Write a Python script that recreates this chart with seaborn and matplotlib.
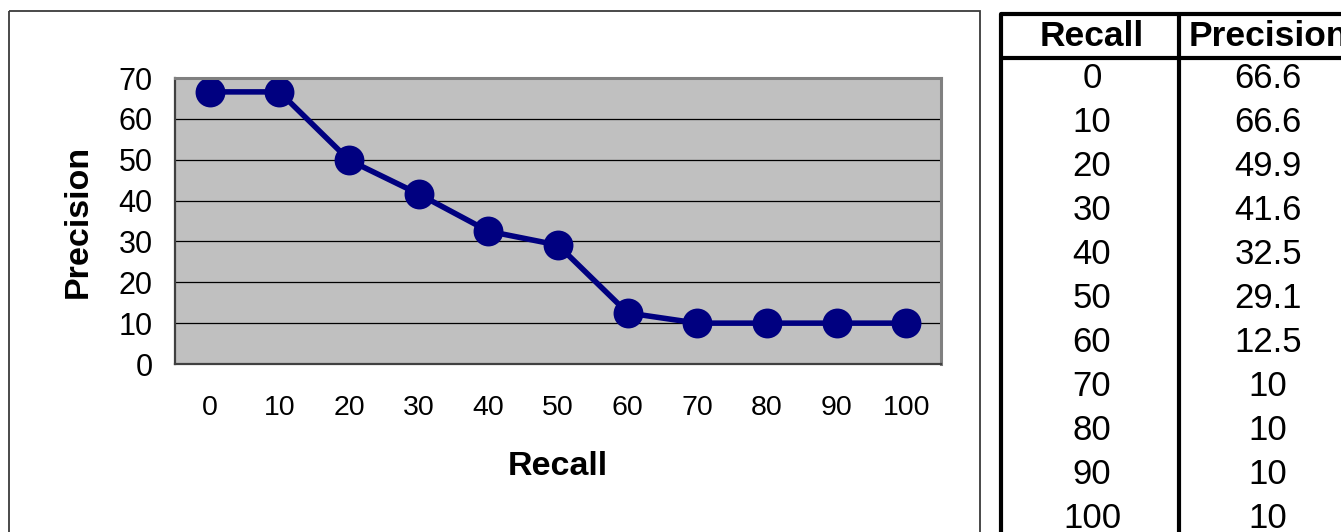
import matplotlib
matplotlib.use("Agg")
import matplotlib.pyplot as plt
from matplotlib.patches import Rectangle
import pandas as pd
import seaborn as sns

# Interpolated precision at the eleven standard recall levels
recall = [0, 10, 20, 30, 40, 50, 60, 70, 80, 90, 100]
precision = [66.6, 66.6, 49.9, 41.6, 32.5, 29.1, 12.5, 10, 10, 10, 10]
y_ticks = [0, 10, 20, 30, 40, 50, 60, 70]
table_header = ["Recall", "Precision"]

sns.set_theme(style="white")
plt.rcParams["font.family"] = ["Liberation Sans", "DejaVu Sans"]
plt.rcParams.update({"text.color": "black", "axes.labelcolor": "black",
                     "xtick.color": "black", "ytick.color": "black"})

W, H = 1341, 532
fig = plt.figure(figsize=(W / 100, H / 100), dpi=100)
fig.patch.set_facecolor("white")

# Pixel-space overlay for the chart frame and the data table
overlay = fig.add_axes([0, 0, 1, 1], zorder=0)
overlay.set_xlim(0, W)
overlay.set_ylim(H, 0)
overlay.axis("off")
overlay.add_patch(Rectangle((9.5, 11), 971, 540, fill=False,
                            edgecolor="#3a3a3a", linewidth=1.3))

# Chart
ax = fig.add_axes([175 / W, 1 - 364 / H, (941 - 175) / W, (364 - 78) / H], zorder=2)
ax.set_facecolor("#C0C0C0")
df = pd.DataFrame({"Recall": [str(r) for r in recall], "Precision": precision})
sns.pointplot(data=df, x="Recall", y="Precision", color="#000080",
              markersize=18.5, linewidth=4.0, errorbar=None, ax=ax)
ax.set_xlim(-0.5, len(recall) - 0.5)
ax.set_ylim(y_ticks[0], y_ticks[-1])
ax.set_yticks(y_ticks)
ax.set_yticklabels([str(t) for t in y_ticks], fontsize=22)
ax.set_xticks(range(len(recall)))
ax.set_xticklabels([str(r) for r in recall], fontsize=20.5)
ax.set_xticks([i - 0.5 for i in range(len(recall) + 1)], minor=True)
ax.tick_params(axis="x", which="major", length=0, pad=22, labelcolor="black")
ax.tick_params(axis="x", which="minor", length=7, width=1.2, color="#404040", direction="out")
ax.tick_params(axis="y", which="major", length=7, width=1.2, color="#404040",
               direction="out", pad=9, labelcolor="black")
ax.yaxis.grid(True, color="black", linewidth=0.9)
ax.set_axisbelow(True)
for s in ["left", "bottom"]:
    ax.spines[s].set_color("#404040")
    ax.spines[s].set_linewidth(1.6)
for s in ["top", "right"]:
    ax.spines[s].set_color("#808080")
    ax.spines[s].set_linewidth(2.2)
ax.set_xlabel("Recall", fontsize=24.5, fontweight="bold", labelpad=22, color="black")
ax.set_ylabel("Precision", fontsize=24.5, fontweight="bold", labelpad=18, color="black")

# Data table
x_left, x_mid, x_right = 1001, 1179, 1400
y_top, y_head = 14, 58
row_h = 44
lw_t = 3.0
overlay.plot([x_left, x_right], [y_top, y_top], color="black", lw=lw_t, solid_capstyle="butt")
overlay.plot([x_left, x_right], [y_head, y_head], color="black", lw=lw_t, solid_capstyle="butt")
overlay.plot([x_left, x_left], [y_top, H + 5], color="black", lw=lw_t)
overlay.plot([x_mid, x_mid], [y_top, H + 5], color="black", lw=lw_t)
overlay.text((x_left + x_mid) / 2 + 2, 37, table_header[0], fontsize=25.5, fontweight="bold",
             ha="center", va="center")
overlay.text(x_mid + 10, 37, table_header[1], fontsize=25.5, fontweight="bold",
             ha="left", va="center")
for i, (r, p) in enumerate(zip(recall, precision)):
    yy = 79 + i * row_h
    overlay.text((x_left + x_mid) / 2 + 2, yy, str(r), fontsize=25, ha="center", va="center")
    overlay.text(1268, yy, f"{p:g}", fontsize=25, ha="center", va="center")

fig.savefig("out.png", dpi=100, facecolor="white")
